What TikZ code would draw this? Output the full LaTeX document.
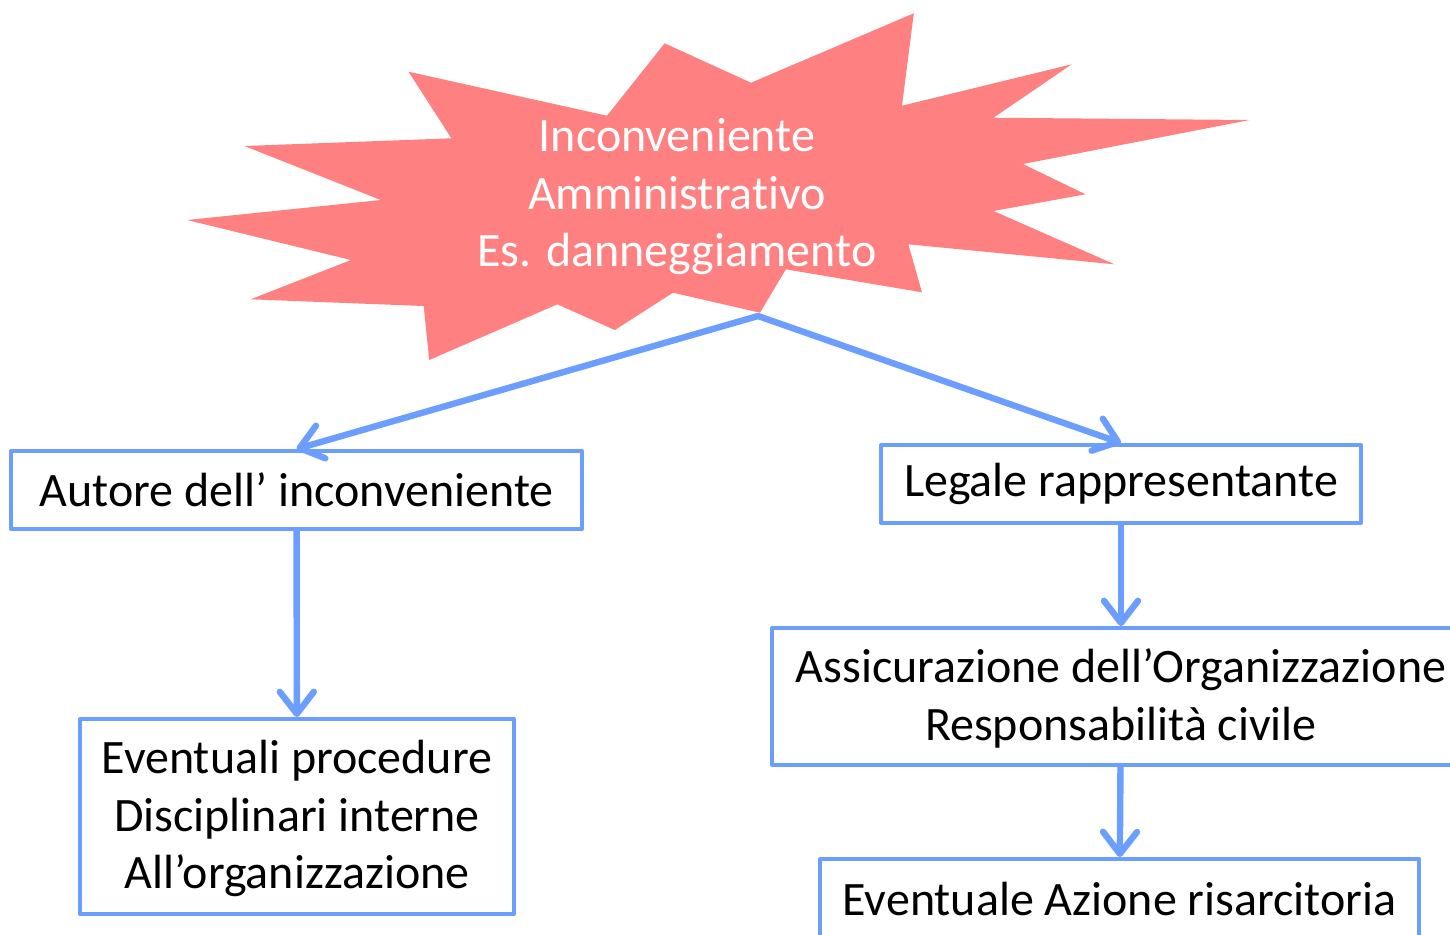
\documentclass[tikz,border=0pt]{standalone}
\usepackage{fontspec}
\setmainfont{Carlito}[Ligatures=NoCommon]
\usetikzlibrary{arrows.meta}
\definecolor{stella}{RGB}{255,128,128}
\definecolor{blu}{RGB}{108,158,255}
\begin{document}
\begin{tikzpicture}[x=0.5pt,y=-0.5pt,line join=round,
	box/.style={draw=blu,line width=2pt,align=center,inner sep=0pt,font=\fontsize{24}{28.75}\selectfont},
	freccia/.style={draw=blu,line width=3.2pt,line cap=round,-{Straight Barb[round,length=11pt,width=17pt]}}]
		
		\useasboundingbox (0,0) rectangle (1450,934);
		\clip (0,0) rectangle (1450,934);
		% stella dell'inconveniente
		\fill[stella] (408.5,71.7) -- (607,115.7) -- (664.6,43.3) -- (751,82.7) -- (913.8,13.3) -- (902,105.7)
			-- (1071.7,64.3) -- (993.5,117.7) -- (1249.6,120) -- (1023,164) -- (1085.5,194.3) -- (993.5,211)
			-- (1114.6,264.3) -- (908.3,244.3) -- (922,292.3) -- (785.8,269.3) -- (760,312.7) -- (673,292.7)
			-- (614.8,330) -- (557.3,304.3) -- (429.2,360) -- (423.7,306) -- (250.6,299.3) -- (351,260)
			-- (187,220) -- (380.8,200) -- (244.4,146) -- (451.4,138.3) -- cycle;
		\coordinate (punta) at (758,316);
		\node[text=white,align=center,font=\fontsize{24}{28.75}\selectfont] (evento) at (677,197)
			{Inconveniente\\Amministrativo\\Es. danneggiamento};
		% riquadri
		\node[box,minimum width=285.5pt,minimum height=39pt] (autore) at (296.5,490) {Autore dell’ inconveniente};
		\node[box,minimum width=240pt,minimum height=39pt] (legale) at (1121,484) {Legale rappresentante};
		\node[box,minimum width=217pt,minimum height=97.5pt,text depth=2pt] (procedure) at (297,816.5)
			{Eventuali procedure\\Disciplinari interne\\All’organizzazione};
		\node[box,minimum width=349pt,minimum height=68.5pt,text depth=2pt] (assicurazione) at (1121,696.5)
			{Assicurazione dell’Organizzazione\\Responsabilità civile};
		\node[box,minimum width=299.5pt,minimum height=40pt] (azione) at (1119.5,899) {Eventuale Azione risarcitoria};
		% frecce
		\draw[freccia] (punta) -- (autore.north);
		\draw[freccia] (punta) -- (legale.north);
		\draw[freccia] (autore) -- (procedure);
		\draw[freccia] (legale) -- (assicurazione);
		\draw[freccia] (assicurazione) -- (azione);
	\end{tikzpicture}
\end{document}
